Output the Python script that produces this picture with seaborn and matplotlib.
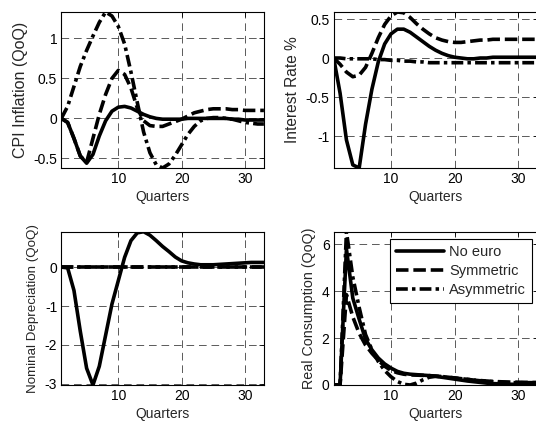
import matplotlib
matplotlib.use("Agg")
import matplotlib.pyplot as plt
from matplotlib.ticker import FuncFormatter
import numpy as np
import pandas as pd
import seaborn as sns

# ---------------------------------------------------------------- data
quarters = list(range(1, 34))
scenarios = ["No euro", "Symmetric", "Asymmetric"]

cpi_no_euro = [0, -0.05, -0.25, -0.47, -0.56, -0.45, -0.22, -0.03, 0.09, 0.14, 0.15,
               0.13, 0.09, 0.05, 0.02, 0.0, -0.01, -0.01, -0.01, -0.01, 0.0, 0.0, 0.0,
               0.0, 0.0, 0.0, 0.0, -0.01, -0.01, -0.02, -0.02, -0.02, -0.02]
cpi_symmetric = [0, -0.05, -0.25, -0.47, -0.55, -0.25, 0.05, 0.3, 0.5, 0.6, 0.55,
                 0.38, 0.13, -0.03, -0.09, -0.1, -0.1, -0.07, -0.04, -0.01, 0.03, 0.07,
                 0.09, 0.11, 0.12, 0.12, 0.12, 0.11, 0.11, 0.1, 0.1, 0.1, 0.1]
cpi_asymmetric = [0, 0.15, 0.4, 0.65, 0.85, 1.03, 1.2, 1.33, 1.28, 1.15, 0.93, 0.58,
                  0.2, -0.17, -0.43, -0.58, -0.62, -0.57, -0.46, -0.33, -0.2, -0.1,
                  -0.03, 0.0, 0.01, 0.01, 0.0, -0.01, -0.03, -0.05, -0.06, -0.07, -0.07]

rate_no_euro = [0, -0.45, -1.05, -1.37, -1.41, -0.85, -0.4, -0.05, 0.18, 0.31, 0.37,
                0.37, 0.33, 0.27, 0.21, 0.15, 0.1, 0.06, 0.03, 0.01, 0.0, -0.01, -0.01,
                0.0, 0.0, 0.01, 0.01, 0.01, 0.01, 0.01, 0.01, 0.01, 0.01]
rate_symmetric = [0, -0.08, -0.18, -0.24, -0.22, -0.12, 0.06, 0.26, 0.43, 0.54, 0.59,
                  0.58, 0.52, 0.44, 0.37, 0.31, 0.26, 0.23, 0.21, 0.2, 0.2, 0.21, 0.22,
                  0.23, 0.23, 0.24, 0.24, 0.24, 0.24, 0.24, 0.24, 0.24, 0.24]
rate_asymmetric = [0, 0.0, -0.01, -0.01, -0.01, -0.01, -0.01, -0.02, -0.02, -0.03,
                   -0.03, -0.04, -0.04, -0.05, -0.05, -0.06, -0.06, -0.06, -0.06, -0.06,
                   -0.06, -0.06, -0.06, -0.06, -0.06, -0.06, -0.06, -0.06, -0.06, -0.06,
                   -0.06, -0.06, -0.06]

dep_no_euro = [0, -0.02, -0.6, -1.65, -2.6, -3.03, -2.55, -1.75, -0.95, -0.35, 0.25,
               0.68, 0.88, 0.91, 0.82, 0.68, 0.53, 0.4, 0.26, 0.16, 0.11, 0.08, 0.06,
               0.06, 0.06, 0.07, 0.08, 0.09, 0.1, 0.11, 0.12, 0.12, 0.12]
dep_symmetric = [0.0] * 33
dep_asymmetric = [0.0] * 33

cons_no_euro = [0, 0, 5.8, 3.7, 2.8, 1.95, 1.5, 1.15, 0.9, 0.72, 0.58, 0.5, 0.46, 0.44,
                0.42, 0.4, 0.37, 0.33, 0.29, 0.25, 0.21, 0.17, 0.14, 0.11, 0.08, 0.06,
                0.05, 0.04, 0.03, 0.03, 0.03, 0.03, 0.03]
cons_symmetric = [0, 0, 3.85, 2.9, 2.2, 1.7, 1.35, 1.05, 0.8, 0.62, 0.52, 0.46, 0.43,
                  0.42, 0.41, 0.4, 0.38, 0.36, 0.33, 0.3, 0.27, 0.24, 0.21, 0.19, 0.17,
                  0.15, 0.14, 0.13, 0.12, 0.12, 0.11, 0.11, 0.11]
cons_asymmetric = [0, 0, 6.53, 4.6, 3.3, 2.15, 1.5, 1.0, 0.62, 0.35, 0.15, 0.03, 0.0,
                   0.08, 0.22, 0.33, 0.37, 0.36, 0.33, 0.3, 0.27, 0.24, 0.21, 0.18, 0.16,
                   0.14, 0.12, 0.11, 0.1, 0.1, 0.1, 0.1, 0.1]

x_ticks = [10, 20, 30]
panels = [
    ("CPI Inflation (QoQ)", [cpi_no_euro, cpi_symmetric, cpi_asymmetric],
     [-0.5, 0, 0.5, 1]),
    ("Interest Rate %", [rate_no_euro, rate_symmetric, rate_asymmetric],
     [-1, -0.5, 0, 0.5]),
    ("Nominal Depreciation (QoQ)", [dep_no_euro, dep_symmetric, dep_asymmetric],
     [-3, -2, -1, 0]),
    ("Real Consumption (QoQ)", [cons_no_euro, cons_symmetric, cons_asymmetric],
     [0, 2, 4, 6]),
]

# ---------------------------------------------------------------- style
sns.set_theme(style="white")
plt.rcParams["font.family"] = ["Liberation Sans", "DejaVu Sans"]
plt.rcParams["axes.unicode_minus"] = False
plt.rcParams["lines.scale_dashes"] = False

line_dashes = {"No euro": "", "Symmetric": (9.0, 3.5), "Asymmetric": (8.5, 3.0, 2.5, 3.0)}

fig = plt.figure(figsize=(5.36, 4.22), dpi=100)
W, H = 536.0, 422.0
boxes = [
    (61.3, 12.0, 202.6, 156.0),
    (333.7, 12.0, 203.8, 156.0),
    (61.3, 231.7, 202.6, 153.3),
    (333.7, 231.7, 203.8, 153.3),
]
ylabel_sizes = [11.5, 11.2, 9.6, 10.3]

for (ylabel, series, yticks), (x0, y0, w, h), ysize in zip(panels, boxes, ylabel_sizes):
    ax = fig.add_axes([x0 / W, 1 - (y0 + h) / H, w / W, h / H])
    df = pd.DataFrame({
        "Quarter": quarters * 3,
        "value": np.concatenate(series),
        "scenario": np.repeat(scenarios, len(quarters)),
    })
    sns.lineplot(data=df, x="Quarter", y="value", style="scenario",
                 style_order=scenarios, dashes=line_dashes, color="black",
                 linewidth=2.6, legend=False, ax=ax,
                 solid_joinstyle="round", dash_joinstyle="round")
    vals = df["value"]
    ax.set_xlim(quarters[0], quarters[-1])
    ax.set_ylim(vals.min(), vals.max())
    ax.set_xticks(x_ticks)
    ax.set_yticks(yticks)
    ax.yaxis.set_major_formatter(FuncFormatter(lambda v, p: f"{v:g}"))
    ax.set_xlabel("Quarters", fontsize=10, labelpad=3)
    ax.set_ylabel(ylabel, fontsize=ysize, labelpad=4)
    ax.tick_params(direction="in", top=True, right=True, length=3.5, width=0.6,
                   labelsize=10, pad=3, colors="black")
    ax.grid(True, linestyle=(0, (5.5, 3.5)), color="0.25", linewidth=0.6)
    ax.set_axisbelow(True)
    for sp in ax.spines.values():
        sp.set_color("black")
        sp.set_linewidth(0.8)

    if ylabel.startswith("Real"):
        handles = ax.get_lines()[:3]
        leg = ax.legend(handles, scenarios, loc="upper right",
                        bbox_to_anchor=(532 / W, 1 - 239 / H),
                        bbox_transform=fig.transFigure, fontsize=10.5,
                        frameon=True, fancybox=False, framealpha=1,
                        edgecolor="black", handlelength=3.3, handletextpad=0.35,
                        labelspacing=0.35, borderpad=0.4, borderaxespad=0)
        leg.get_frame().set_linewidth(0.8)

fig.savefig("out.png", dpi=100)
